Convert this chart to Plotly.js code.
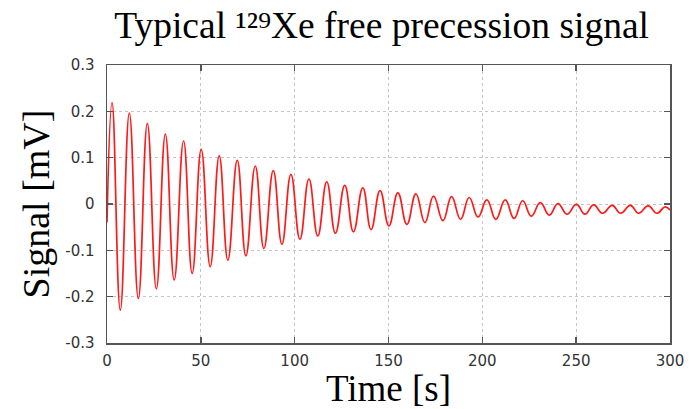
<!DOCTYPE html>
<html>
<head>
<meta charset="utf-8">
<script src="https://cdn.plot.ly/plotly-3.0.1.min.js"></script>
<style>html,body{margin:0;padding:0;background:#fff;}#chart{width:695px;height:409px;}</style>
</head>
<body>
<div id="chart"></div>
<script>
// Extrema (and end points) of the signal
const timeS = [0, 2.7, 7.1, 11.9, 16.7, 21.5, 26.3, 31.1, 35.8, 40.8, 45.4, 50.2, 55.0, 59.8, 64.4, 69.4, 74.0, 79.0, 83.6, 88.6, 93.2, 98.0, 102.8, 107.6, 112.3, 117.1, 121.7, 126.7, 131.3, 136.3, 140.7, 145.5, 150.2, 155.0, 159.8, 164.6, 169.4, 174.0, 179.0, 183.6, 188.4, 193.0, 197.7, 202.4, 207.2, 212.2, 216.9, 221.5, 226.1, 230.9, 235.7, 240.3, 245.1, 250.1, 254.7, 259.3, 264.1, 269.2, 273.7, 278.9, 283.3, 288.4, 293.0, 297.4, 300];
const signalMV = [-0.04, 0.219, -0.229, 0.196, -0.204, 0.174, -0.183, 0.151, -0.164, 0.136, -0.150, 0.118, -0.135, 0.104, -0.121, 0.094, -0.112, 0.082, -0.096, 0.072, -0.087, 0.064, -0.076, 0.054, -0.069, 0.048, -0.063, 0.040, -0.060, 0.035, -0.055, 0.029, -0.047, 0.024, -0.044, 0.022, -0.040, 0.017, -0.036, 0.016, -0.033, 0.014, -0.028, 0.009, -0.033, 0.009, -0.031, 0.007, -0.026, 0.003, -0.024, 0.001, -0.022, -0.001, -0.022, -0.002, -0.020, -0.003, -0.020, -0.003, -0.020, -0.004, -0.020, -0.006, -0.013];

const xTickVals = [0, 50, 100, 150, 200, 250, 300];
const xTickText = ['0', '50', '100', '150', '200', '250', '300'];
const yTickVals = [-0.3, -0.2, -0.1, 0, 0.1, 0.2, 0.3];
const yTickText = ['-0.3', '-0.2', '-0.1', '0', '0.1', '0.2', '0.3'];

const serif = 'Liberation Serif, Times New Roman, serif';

const trace = {
  x: timeS, y: signalMV, type: 'scatter', mode: 'lines',
  line: {color: '#ff1a1a', width: 1.7, shape: 'spline', smoothing: 1.3},
  hoverinfo: 'skip'
};

function axisCommon() {
  return {
    showline: true, linecolor: '#555', linewidth: 1.5, mirror: 'ticks',
    ticks: 'inside', ticklen: 6, tickwidth: 1.5, tickcolor: '#555',
    showgrid: true, gridcolor: '#c4c4c4', griddash: 'dot', gridwidth: 1,
    zeroline: false, tickmode: 'array',
    tickfont: {family: 'DejaVu Sans', size: 15, color: '#333'}
  };
}

const layout = {
  width: 695, height: 409,
  margin: {l: 107, r: 25, t: 65, b: 66},
  paper_bgcolor: '#fff', plot_bgcolor: '#fff',
  showlegend: false,
  title: {
    text: 'Typical \u00B9\u00B2\u2079Xe free precession signal',
    font: {family: serif, size: 37.5, color: '#000'},
    x: 0.549, xanchor: 'center', y: 0.972, yanchor: 'top'
  },
  xaxis: Object.assign(axisCommon(), {
    range: [0, 300], tickvals: xTickVals, ticktext: xTickText, ticklabelstandoff: 3,
    title: {text: 'Time [s]', standoff: 5, font: {family: serif, size: 37, color: '#000'}}
  }),
  yaxis: Object.assign(axisCommon(), {
    range: [-0.3, 0.3], tickvals: yTickVals, ticktext: yTickText, ticklabelstandoff: 8,
    title: {text: 'Signal [mV]', standoff: 4, font: {family: serif, size: 38, color: '#000'}}
  })
};

Plotly.newPlot('chart', [trace], layout, {displayModeBar: false, staticPlot: true});
</script>
</body>
</html>
